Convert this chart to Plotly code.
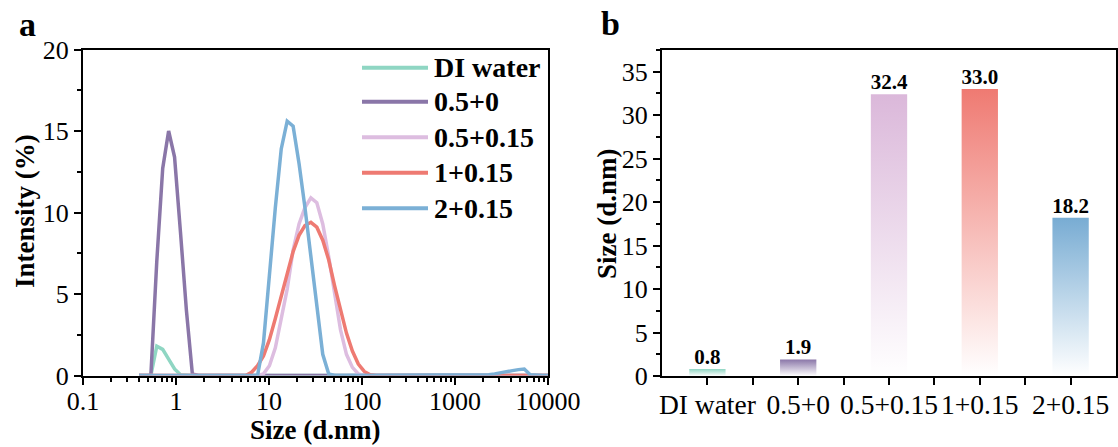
import plotly.graph_objects as go

# ---------------- data ----------------
sizes_nm = [0.4, 0.4632, 0.5365, 0.6213, 0.7195, 0.8332, 0.9649, 1.117, 1.294, 1.499,
            1.736, 2.01, 2.328, 2.696, 3.122, 3.615, 4.187, 4.849, 5.615, 6.503,
            7.531, 8.721, 10.1, 11.7, 13.54, 15.69, 18.17, 21.04, 24.36, 28.21,
            32.67, 37.84, 43.82, 50.75, 58.77, 68.06, 78.82, 91.28, 105.7, 122.4,
            141.8, 164.2, 190.1, 220.2, 255.0, 295.3, 342.0, 396.1, 458.7, 531.2,
            615.1, 712.4, 825.0, 955.4, 1106, 1281, 1484, 1718, 1990, 2305,
            2669, 3091, 3580, 4145, 4801, 5560, 6439, 7456, 8635, 10000]

di_water = [0, 0, 0, 1.8, 1.6, 1.0, 0.4, 0.05, 0, 0,
            0, 0, 0, 0, 0, 0, 0, 0, 0, 0,
            0, 0, 0, 0, 0, 0, 0, 0, 0, 0,
            0, 0, 0, 0, 0, 0, 0, 0, 0, 0,
            0, 0, 0, 0, 0, 0, 0, 0, 0, 0,
            0, 0, 0, 0, 0, 0, 0, 0, 0, 0,
            0, 0, 0, 0, 0, 0, 0, 0, 0, 0]

s_05_0 = [0, 0, 0, 7.0, 12.7, 15.0, 13.4, 8.8, 4.0, 0.1,
          0, 0, 0, 0, 0, 0, 0, 0, 0, 0,
          0, 0, 0, 0, 0, 0, 0, 0, 0, 0,
          0, 0, 0, 0, 0, 0, 0, 0, 0, 0,
          0, 0, 0, 0, 0, 0, 0, 0, 0, 0,
          0, 0, 0, 0, 0, 0, 0, 0, 0, 0,
          0, 0, 0, 0, 0, 0, 0, 0, 0, 0]

s_05_015 = [0, 0, 0, 0, 0, 0, 0, 0, 0, 0,
            0, 0, 0, 0, 0, 0, 0, 0, 0, 0,
            0, 0.1, 0.6, 1.7, 3.4, 5.3, 7.7, 9.3, 10.3, 10.9,
            10.6, 9.3, 7.3, 5.0, 2.8, 1.3, 0.5, 0.1, 0, 0,
            0, 0, 0, 0, 0, 0, 0, 0, 0, 0,
            0, 0, 0, 0, 0, 0, 0, 0, 0, 0,
            0, 0, 0, 0, 0, 0, 0, 0, 0, 0]

s_1_015 = [0, 0, 0, 0, 0, 0, 0, 0, 0, 0,
           0, 0, 0, 0, 0, 0, 0, 0, 0, 0.2,
           0.6, 1.2, 2.2, 3.5, 4.8, 6.2, 7.6, 8.6, 9.2, 9.4,
           9.1, 8.3, 7.1, 5.5, 4.0, 2.6, 1.5, 0.7, 0.25, 0.05,
           0, 0, 0, 0, 0, 0, 0, 0, 0, 0,
           0, 0, 0, 0, 0, 0, 0, 0, 0, 0,
           0, 0, 0, 0, 0, 0, 0, 0, 0, 0]

s_2_015 = [0, 0, 0, 0, 0, 0, 0, 0, 0, 0,
           0, 0, 0, 0, 0, 0, 0, 0, 0, 0,
           0, 2.0, 6.4, 10.3, 13.9, 15.6, 15.3, 13.0, 10.3, 7.2,
           4.2, 1.3, 0.1, 0, 0, 0, 0, 0, 0, 0,
           0, 0, 0, 0, 0, 0, 0, 0, 0, 0,
           0, 0, 0, 0, 0, 0, 0, 0, 0, 0.05,
           0.1, 0.15, 0.22, 0.3, 0.36, 0.4, 0.05, 0, 0, 0]

series_names = ["DI water", "0.5+0", "0.5+0.15", "1+0.15", "2+0.15"]
series_values = [di_water, s_05_0, s_05_015, s_1_015, s_2_015]
series_colors = ["#8fd6c3", "#8a76a8", "#ddbde0", "#ee7a72", "#7bb0d6"]

bar_categories = ["DI water", "0.5+0", "0.5+0.15", "1+0.15", "2+0.15"]
bar_sizes = [0.8, 1.9, 32.4, 33.0, 18.2]
bar_colors = ["#8fd6c3", "#8a76a8", "#dbb8da", "#ef7a72", "#78acd3"]

x_tick_vals = [0.1, 1, 10, 100, 1000, 10000]
x_tick_text = ["0.1", "1", "10", "100", "1000", "10000"]

# ---------------- figure ----------------
FONT = "Liberation Serif, Times New Roman, serif"
W, H = 1118, 447
A_L, A_R, A_T, A_B = 83, 548, 49.5, 375.5      # panel a plot box (px)
B_L, B_R, B_T, B_B = 662, 1116, 50, 376        # panel b plot box (px)

fig = go.Figure()

for name, vals, col in zip(series_names, series_values, series_colors):
    fig.add_trace(go.Scatter(
        x=sizes_nm, y=vals, mode="lines", name=name, showlegend=False,
        line=dict(color=col, width=3.5), xaxis="x", yaxis="y"))

half_w = 0.2
for i, (cat, v, col) in enumerate(zip(bar_categories, bar_sizes, bar_colors)):
    fig.add_trace(go.Scatter(
        x=[i - half_w, i + half_w, i + half_w, i - half_w, i - half_w],
        y=[0, 0, v, v, 0],
        fill="toself", mode="lines", line=dict(width=0, color=col), name=cat,
        fillgradient=dict(type="vertical", colorscale=[[0, "rgba(255,255,255,1)"], [1, col]],
                          start=0, stop=v),
        showlegend=False, hoverinfo="skip", xaxis="x2", yaxis="y2"))

fig.add_trace(go.Scatter(
    x=list(range(len(bar_categories))), y=bar_sizes, mode="text",
    text=["<b>%.1f</b>" % v for v in bar_sizes], textposition="top center",
    textfont=dict(family=FONT, size=21, color="black"),
    showlegend=False, hoverinfo="skip", xaxis="x2", yaxis="y2"))

minor_log = []
for d in [0.1, 1, 10, 100, 1000]:
    for k in range(2, 10):
        minor_log.append(d * k)

axis_common = dict(showline=True, linewidth=2, linecolor="black", mirror=True,
                   ticks="outside", ticklen=7, tickwidth=2, tickcolor="black",
                   showgrid=False, zeroline=False)

fig.update_layout(
    width=W, height=H, margin=dict(l=0, r=0, t=0, b=0, autoexpand=False),
    paper_bgcolor="white", plot_bgcolor="white",
    font=dict(family=FONT, color="black"),
    xaxis=dict(type="log", range=[-1, 4], domain=[A_L / W, A_R / W], anchor="y",
               tickmode="array", tickvals=x_tick_vals, ticktext=x_tick_text,
               tickfont=dict(family=FONT, size=26, color="black"), ticklabelstandoff=-6,
               minor=dict(tickmode="array", tickvals=minor_log, ticks="outside",
                          ticklen=4, tickwidth=1.5, tickcolor="black"),
               **axis_common),
    yaxis=dict(range=[0, 20], domain=[1 - A_B / H, 1 - A_T / H], anchor="x",
               tickmode="linear", tick0=0, dtick=5,
               tickfont=dict(family=FONT, size=26, color="black"),
               minor=dict(dtick=2.5, ticks="outside", ticklen=4, tickwidth=1.5, tickcolor="black"),
               **axis_common),
    xaxis2=dict(range=[-0.5, 4.5], domain=[B_L / W, B_R / W], anchor="y2",
                tickmode="array", tickvals=list(range(len(bar_categories))), ticktext=bar_categories,
                tickfont=dict(family=FONT, size=27.5, color="black"), ticklabelstandoff=-4,
                minor=dict(tickmode="array", tickvals=[0.5, 1.5, 2.5, 3.5], ticks="outside",
                           ticklen=7, tickwidth=2, tickcolor="black"),
                **axis_common),
    yaxis2=dict(range=[0, 37.5], domain=[1 - B_B / H, 1 - B_T / H], anchor="x2",
                tickmode="linear", tick0=0, dtick=5,
                tickfont=dict(family=FONT, size=26, color="black"),
                minor=dict(dtick=2.5, ticks="outside", ticklen=4, tickwidth=1.5, tickcolor="black"),
                **axis_common),
)

annotations = [
    dict(text="<b>a</b>", x=27 / W, y=1 - 25 / H),
    dict(text="<b>b</b>", x=610 / W, y=1 - 23 / H),
    dict(text="<b>Size (d.nm)</b>", x=(A_L + A_R) / 2 / W, y=1 - 430 / H),
    dict(text="<b>Intensity (%)</b>", x=25 / W, y=1 - 211 / H, textangle=-90),
    dict(text="<b>Size (d.nm)</b>", x=607 / W, y=1 - 213 / H, textangle=-90),
]
for a in annotations:
    size = 34 if a["text"] in ("<b>a</b>", "<b>b</b>") else 27
    a.update(xref="paper", yref="paper", showarrow=False, xanchor="center", yanchor="middle",
             font=dict(family=FONT, size=size, color="black"))

# legend drawn inside panel a (text entries + line swatches)
legend_rows_px = [67.7, 101.7, 137.3, 172.7, 208.3]
shapes = []
for name, col, ry in zip(series_names, series_colors, legend_rows_px):
    shapes.append(dict(type="line", xref="paper", yref="paper",
                       x0=362 / W, x1=428 / W, y0=1 - ry / H, y1=1 - ry / H,
                       line=dict(color=col, width=4)))
    annotations.append(dict(text="<b>" + name + "</b>", x=432 / W, y=1 - ry / H,
                            xref="paper", yref="paper", showarrow=False,
                            xanchor="left", yanchor="middle",
                            font=dict(family=FONT, size=28, color="black")))

fig.update_layout(annotations=annotations, shapes=shapes)

fig.write_html("out.html")
